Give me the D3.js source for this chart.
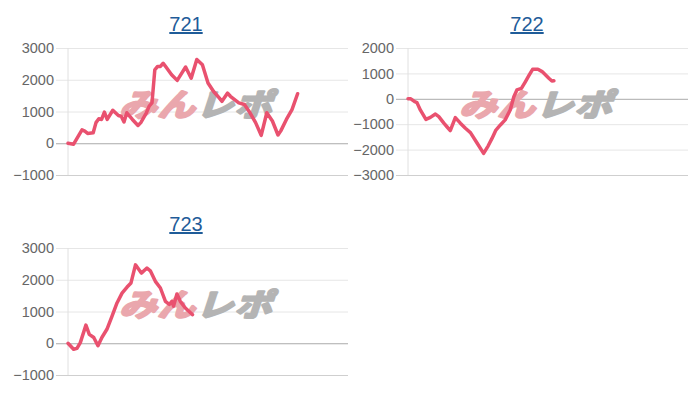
<!DOCTYPE html>
<html>
<head>
<meta charset="utf-8">
<script src="https://cdn.jsdelivr.net/npm/d3@7"></script>
<style>
  body { margin: 0; background: #fff; }
  svg { display: block; }
</style>
</head>
<body>
<div id="chart"></div>
<script>
// machine numbers (titles)
const titles = ["721", "722", "723"];

// game position (0-100 along the x axis) and cumulative diff for each machine
const games721 = [0, 2, 3, 5, 6, 7, 9, 10, 11, 12, 13, 14, 16, 18, 19, 20, 21, 23, 25, 26, 28, 29, 30, 31, 32, 33, 34, 35, 37, 39, 42, 44, 46, 48, 50, 52, 54, 55, 57, 58, 61, 63, 65, 67, 69, 71, 73, 75, 76, 78, 80, 82];
const diffs721 = [0, -30, 120, 420, 380, 310, 330, 650, 770, 750, 980, 750, 1040, 875, 850, 670, 960, 750, 560, 650, 960, 1170, 1270, 2310, 2420, 2420, 2520, 2400, 2160, 1980, 2400, 2050, 2640, 2470, 1900, 1630, 1430, 1320, 1580, 1480, 1270, 1220, 960, 650, 250, 960, 700, 260, 390, 750, 1060, 1560];

const games722 = [0, 1, 2.4, 3.2, 4.4, 6.4, 8, 9.8, 11, 12.8, 13.9, 15.1, 16.9, 18.7, 20.5, 22.3, 24.6, 27, 28.6, 30, 31.4, 33, 34.7, 36.5, 37.8, 38.9, 40.5, 41.9, 43.1, 44.5, 46.4, 47.9, 50.3, 51.4, 52.1];
const diffs722 = [0, 0, -115, -150, -440, -810, -730, -600, -700, -960, -1100, -1250, -740, -960, -1160, -1330, -1730, -2150, -1860, -1560, -1230, -1030, -830, -440, 80, 350, 410, 670, 900, 1160, 1160, 1070, 810, 700, 710];

const games723 = [0, 2, 3.2, 4.4, 6.4, 7.6, 9.2, 10.7, 12.1, 13.9, 15.7, 17.5, 19.3, 21.1, 22.5, 24.1, 26.2, 28.2, 29.4, 31.2, 33, 34.8, 36.2, 37.1, 37.7, 38.9, 40.1, 41.9, 44.5];
const diffs723 = [0, -190, -160, 20, 570, 280, 180, -80, 180, 440, 850, 1270, 1580, 1770, 1900, 2470, 2210, 2370, 2280, 1950, 1740, 1320, 1220, 1320, 1170, 1550, 1320, 1110, 900];

// y axis ticks
const ticksA = [3000, 2000, 1000, 0, -1000];
const ticksB = [2000, 1000, 0, -1000, -2000, -3000];

const width = 700, height = 400;
const lineColor = "#e9516f";

const svg = d3.select("#chart").append("svg")
    .attr("width", width)
    .attr("height", height)
    .style("font-family", "'Liberation Sans', Arial, sans-serif");

const panels = [
  {title: titles[0], games: games721, diffs: diffs721, ticks: ticksA, left: 68, top: 48, titleX: 186},
  {title: titles[1], games: games722, diffs: diffs722, ticks: ticksB, left: 408, top: 48, titleX: 527},
  {title: titles[2], games: games723, diffs: diffs723, ticks: ticksA, left: 68, top: 248, titleX: 186},
];

panels.forEach(drawPanel);

function drawPanel(p) {
  const plotW = 280, plotH = 127;

  const x = d3.scaleLinear().domain([0, 100]).range([p.left, p.left + plotW]);
  const y = d3.scaleLinear()
      .domain(d3.extent(p.ticks))
      .range([p.top + plotH, p.top]);

  const g = svg.append("g");

  // title
  g.append("text")
      .attr("x", p.titleX)
      .attr("y", p.top - 17)
      .attr("text-anchor", "middle")
      .attr("fill", "#1f5c99")
      .style("font-size", "20px")
      .style("text-decoration", "underline")
      .text(p.title);

  // grid + y axis
  const axis = d3.axisLeft(y)
      .tickValues(p.ticks)
      .tickSize(-(plotW + 12))
      .tickPadding(2)
      .tickFormat(d3.format("d"));

  const ag = g.append("g")
      .attr("transform", `translate(${p.left + plotW},0)`)
      .call(axis);
  ag.select(".domain").remove();
  ag.selectAll(".tick line")
      .attr("x1", 0)
      .attr("x2", -(plotW + 12))
      .attr("stroke", d => d === 0 ? "#aaaaaa" : (d === p.ticks[p.ticks.length - 1] ? "#cfcfcf" : "#e6e6e6"));
  ag.selectAll(".tick text")
      .attr("x", -(plotW + 14))
      .attr("fill", "#666")
      .style("font-size", "14.5px");

  // vertical axis line
  g.append("line")
      .attr("x1", p.left).attr("x2", p.left)
      .attr("y1", p.top).attr("y2", p.top + plotH)
      .attr("stroke", "#e0e0e0");

  // watermark
  const wm = g.append("text")
      .attr("transform", `translate(${p.left + plotW / 2 - 12},${p.top + 68}) skewX(-18) scale(1.2,1)`)
      .attr("text-anchor", "middle")
      .style("font-family", "'Noto Sans CJK JP', sans-serif")
      .style("font-weight", "bold")
      .style("font-size", "31px")
      .attr("stroke-width", 2.5)
      .attr("stroke-linejoin", "round")
      .attr("letter-spacing", "1");
  wm.append("tspan").attr("fill", "#eaa7ad").attr("stroke", "#eaa7ad").text("みん");
  wm.append("tspan").attr("fill", "#b4b4b4").attr("stroke", "#b4b4b4").text("レポ");

  // line
  const pts = d3.zip(p.games, p.diffs);
  g.append("path")
      .datum(pts)
      .attr("fill", "none")
      .attr("stroke", lineColor)
      .attr("stroke-width", 3.5)
      .attr("stroke-linejoin", "round")
      .attr("stroke-linecap", "round")
      .attr("d", d3.line().x(d => x(d[0])).y(d => y(d[1])));
}
</script>
</body>
</html>
